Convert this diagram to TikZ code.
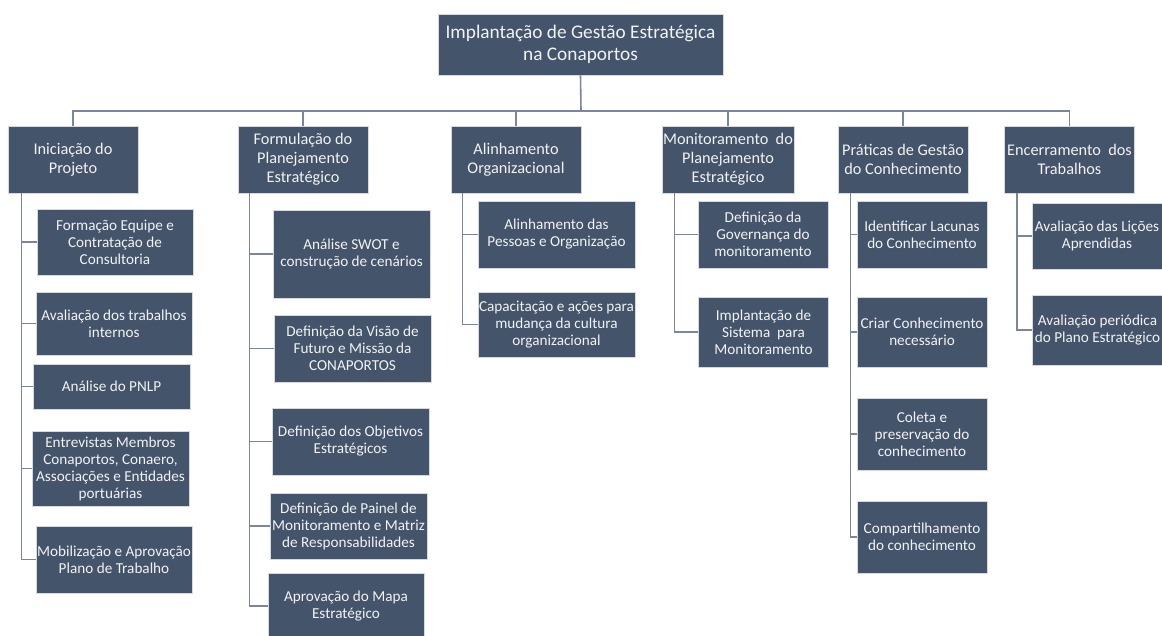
\documentclass[tikz,border=0pt]{standalone}
\usepackage{fontspec}
\setmainfont{Carlito}
\definecolor{boxfill}{HTML}{44546A}
\definecolor{boxedge}{HTML}{D5DAE1}
\definecolor{wire}{HTML}{7A8699}
\definecolor{txt}{HTML}{F2F2F2}
\tikzset{
  base/.style={rectangle, fill=boxfill, draw=boxedge, line width=0.8pt, text=txt, align=center, inner sep=1pt},
  rootbox/.style={base, minimum width=285pt, minimum height=61pt, font=\fontsize{19.3}{22}\selectfont},
  phasebox/.style={base, minimum width=130pt, minimum height=67pt, font=\fontsize{16.3}{19}\selectfont},
  taskbox/.style={base, font=\fontsize{15.2}{17}\selectfont},
  wireline/.style={draw=wire, line width=1.6pt},
}
\begin{document}
\begin{tikzpicture}[x=1pt,y=-1pt]
\useasboundingbox (0,0) rectangle (1162,635);
\fill[white] (0,0) rectangle (1162,635);

\node[rootbox] (top) at (580.5,44.5) {Implantação de Gestão Estratégica\\na Conaportos};

\node[phasebox] (a) at (73,159.5) {Iniciação do\\Projeto};
\node[phasebox] (b) at (303,159.5) {Formulação do\\Planejamento\\Estratégico};
\node[phasebox] (c) at (516,159.5) {Alinhamento\\Organizacional};
\node[phasebox] (d) at (728,159.5) {Monitoramento~ do\\Planejamento\\Estratégico};
\node[phasebox] (e) at (903,159.5) {Práticas de Gestão\\do Conhecimento};
\node[phasebox] (f) at (1069.5,159.5) {Encerramento~ dos\\Trabalhos};

% Iniciação
\node[taskbox, minimum width=156pt, minimum height=66pt] (a1) at (115,242) {Formação Equipe e\\Contratação de\\Consultoria};
\node[taskbox, minimum width=156pt, minimum height=63pt] (a2) at (114,323.5) {Avaliação dos trabalhos\\internos};
\node[taskbox, minimum width=157pt, minimum height=45pt] (a3) at (111.5,386.5) {Análise do PNLP};
\node[taskbox, minimum width=157pt, minimum height=75pt] (a4) at (110.5,468.5) {Entrevistas Membros\\Conaportos, Conaero,\\Associações e Entidades\\portuárias};
\node[taskbox, minimum width=156pt, minimum height=67pt] (a5) at (114,559.5) {Mobilização e Aprovação\\Plano de Trabalho};

% Formulação
\node[taskbox, minimum width=157pt, minimum height=88pt] (b1) at (351.5,254) {Análise SWOT e\\construção de cenários};
\node[taskbox, minimum width=157pt, minimum height=67pt] (b2) at (352.5,348.5) {Definição da Visão de\\Futuro e Missão da\\CONAPORTOS};
\node[taskbox, minimum width=157pt, minimum height=67pt] (b3) at (350.5,441.5) {Definição dos Objetivos\\Estratégicos};
\node[taskbox, minimum width=157pt, minimum height=66pt] (b4) at (348.5,526) {Definição de Painel de\\Monitoramento e Matriz\\de Responsabilidades};
\node[taskbox, minimum width=156pt, minimum height=66pt] (b5) at (346,606) {Aprovação do Mapa\\Estratégico};

% Alinhamento
\node[taskbox, minimum width=157pt, minimum height=67pt] (c1) at (556.5,234.5) {Alinhamento das\\Pessoas e Organização};
\node[taskbox, minimum width=157pt, minimum height=65pt] (c2) at (556.5,324.5) {Capacitação e ações para\\mudança da cultura\\organizacional};

% Monitoramento
\node[taskbox, minimum width=130pt, minimum height=67pt] (d1) at (763,234.5) {Definição da\\Governança do\\monitoramento};
\node[taskbox, minimum width=130pt, minimum height=70pt] (d2) at (763.5,332) {Implantação de\\Sistema~ para\\Monitoramento};

% Práticas
\node[taskbox, minimum width=130pt, minimum height=67pt] (e1) at (922,234.5) {Identificar Lacunas\\do Conhecimento};
\node[taskbox, minimum width=130pt, minimum height=70pt] (e2) at (922,332) {Criar Conhecimento\\necessário};
\node[taskbox, minimum width=130pt, minimum height=72pt] (e3) at (922,434) {Coleta e\\preservação do\\conhecimento};
\node[taskbox, minimum width=130pt, minimum height=72pt] (e4) at (922,537) {Compartilhamento\\do conhecimento};

% Encerramento
\node[taskbox, minimum width=130pt, minimum height=66pt] (f1) at (1097,236) {Avaliação das Lições\\Aprendidas};
\node[taskbox, minimum width=130pt, minimum height=70pt] (f2) at (1097.5,330) {Avaliação periódica\\do Plano Estratégico};

% top-level connectors
\coordinate (bus) at (581,111);
\draw[wireline] (top.south) -- (bus);
\foreach \p in {a,b,c,d,e,f} { \draw[wireline] (\p.north) |- (bus); }

% child connectors
\foreach \c in {a1,a2,a3,a4,a5} { \draw[wireline] ([xshift=14pt]a.south west) |- (\c.west); }
\foreach \c in {b1,b2,b3,b4,b5} { \draw[wireline] ([xshift=12pt]b.south west) |- (\c.west); }
\foreach \c in {c1,c2} { \draw[wireline] ([xshift=12pt]c.south west) |- (\c.west); }
\foreach \c in {d1,d2} { \draw[wireline] ([xshift=13pt]d.south west) |- (\c.west); }
\foreach \c in {e1,e2,e3,e4} { \draw[wireline] ([xshift=13pt]e.south west) |- (\c.west); }
\foreach \c in {f1,f2} { \draw[wireline] ([xshift=13pt]f.south west) |- (\c.west); }
\end{tikzpicture}
\end{document}
